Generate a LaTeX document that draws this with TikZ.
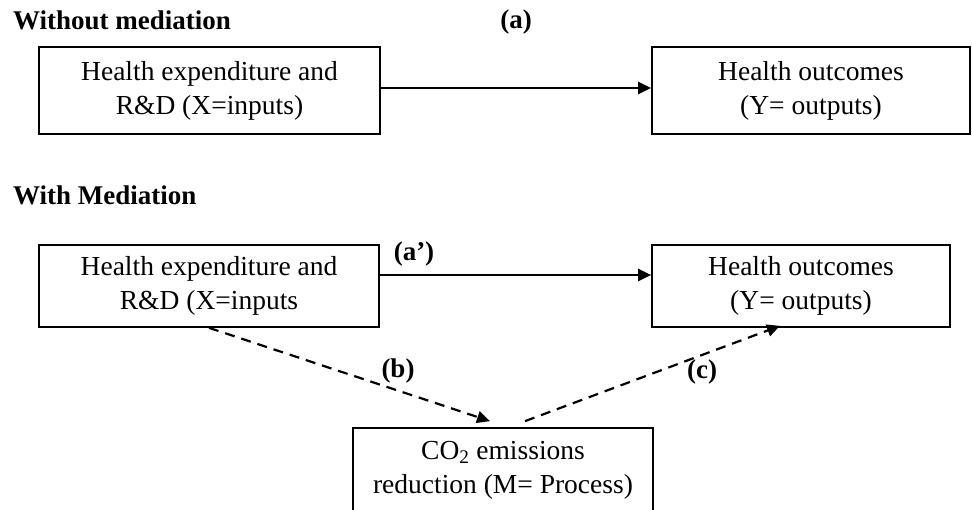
\documentclass[tikz,border=0pt]{standalone}
\usepackage{fontspec}
\setmainfont{Liberation Serif}
\usetikzlibrary{arrows.meta}
\begin{document}
\begin{tikzpicture}[x=1pt,y=-1pt,
  box/.style={draw, line width=1.7pt, rectangle, inner sep=0pt, align=center,
    font=\fontsize{27.5}{34}\selectfont},
  head/.style={font=\fontsize{27}{34}\selectfont\bfseries, inner sep=0pt},
  arr/.style={line width=2.2pt, -{Triangle[length=13pt,width=12pt]}},
  darr/.style={arr, dash pattern=on 10pt off 7pt},
]
\useasboundingbox (0,0) rectangle (972,510);
% headings and labels
\node[head, anchor=base west] (h1) at (13,30) {Without mediation};
\node[head, anchor=base] (la) at (516,29) {(a)};
\node[head, anchor=base west] (h2) at (13,205) {With Mediation};
\node[head, anchor=base] (lap) at (414,261) {(a’)};
\node[head, anchor=base] (lb) at (398,378) {(b)};
\node[head, anchor=base] (lc) at (702,379) {(c)};
% boxes
\node[box, minimum width=341pt, minimum height=87pt] (x1) at (209.5,90.5)
  {Health expenditure and\\R\&D (X=inputs)};
\node[box, minimum width=318pt, minimum height=87pt] (y1) at (811,90.5)
  {Health outcomes\\(Y= outputs)};
\node[box, minimum width=340pt, minimum height=82pt] (x2) at (209,286)
  {Health expenditure and\\R\&D (X=inputs};
\node[box, minimum width=298pt, minimum height=82pt] (y2) at (801,286)
  {Health outcomes\\(Y= outputs)};
\node[box, minimum width=300pt, minimum height=84pt] (m) at (503,470)
  {CO\textsubscript{2} emissions\\reduction (M= Process)};
% connectors
\draw[arr] ([yshift=2.5pt]x1.east) -- ([yshift=2.5pt]y1.west);
\draw[arr] ([yshift=11pt]x2.east) -- ([yshift=11pt]y2.west);
\draw[darr] (x2.south) -- ([xshift=-13pt,yshift=6pt]m.north);
\draw[darr] ([xshift=22pt,yshift=6pt]m.north) -- ([xshift=-21pt,yshift=2pt]y2.south);
\end{tikzpicture}
\end{document}
